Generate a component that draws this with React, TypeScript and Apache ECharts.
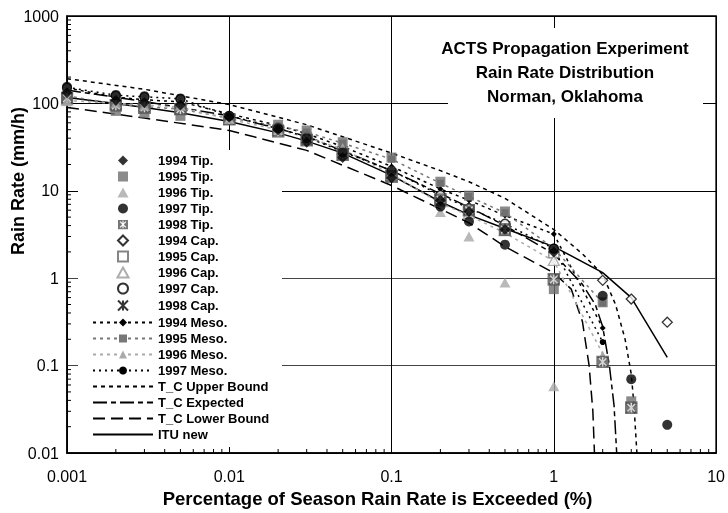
import React, { useEffect, useRef } from "react";
import * as echarts from "echarts";

const FONT = "Liberation Sans";

// Percentages (x) at which measurements are given
const pct = [0.001, 0.002, 0.003, 0.005, 0.01, 0.02, 0.03, 0.05, 0.1, 0.2, 0.3, 0.5, 1, 2, 3, 5];

// Tipping bucket measurements (mm/h)
const tip1994 = [132, 108, 102, 96, 70, 50, 36, 24, 14, 7.8, 5.8, 3.6, 2.0, null, null, null];
const tip1995 = [120, 82, 78, 72, 66, 57, 49, 36, 24, 12.7, 8.8, 5.8, 0.75, 0.53, 0.039, null];
const tip1996 = [106, 100, 94, 94, 66, 50, 41, 31, 15, 5.7, 3.0, 0.89, 0.058, null, null, null];
const tip1997 = [155, 125, 121, 114, 72, 52, 40, 27.5, 16.5, 6.6, 4.45, 2.42, 2.18, 0.63, 0.07, 0.021];
const tip1998 = [115, 95, 90, 86, 66, 48, 38, 26, 14.6, 7.9, 6.0, 3.6, 0.97, 0.11, 0.033, null];

// Capacitance gauge measurements
const cap1994 = [128, 106, 100, 95, 70, 51, 41, 28, 16, 8.5, 6.4, 4.1, 2.0, 0.945, 0.577, 0.314];
const cap1995 = [118, 97, 92, 86, 67, 50, 40, 28, 15.5, 8.2, 6.0, 3.9, 1.95, null, null, null];
const cap1996 = [110, 100, 95, 92, 66, 50, 40, 30, 15, 7.5, 5.5, 3.5, 1.6, null, null, null];
const cap1997 = [150, 122, 118, 112, 72, 53, 41, 28.5, 17, 8.9, 6.3, 4.2, 2.18, null, null, null];
const cap1998 = [116, 96, 91, 86, 66, 48, 38, 26, 14.6, 7.9, 6.0, 3.7, 0.97, 0.11, 0.033, null];

// Mesonet measurements
const meso1994 = [150, 118, 110, 104, 76, 56, 45, 32, 19, 10.5, 7.8, 5.2, 3.2, 0.27, null, null];
const meso1995 = [122, 98, 92, 86, 68, 55, 47, 35, 23, 12.2, 8.6, 5.6, 2.2, 0.52, null, null];
const meso1996 = [108, 100, 96, 90, 66, 50, 41, 30, 15.5, 7.2, 5.2, 3.3, 1.57, 0.137, null, null];
const meso1997 = [153, 124, 119, 113, 72, 52, 41, 28, 17, 8.9, 6.3, 4.2, 2.18, 0.186, null, null];

// Model curves
const upperX = [0.001, 0.003, 0.01, 0.03, 0.1, 0.2, 0.3, 0.5, 1, 1.5, 2, 2.4, 2.75, 3, 3.12, 3.25];
const upperV = [192, 145, 97, 57, 27, 17, 12.7, 8.2, 3.6, 1.9, 1.1, 0.5, 0.2, 0.08, 0.035, 0.01];
const expX = [0.001, 0.003, 0.01, 0.03, 0.1, 0.3, 0.5, 1, 1.5, 1.8, 2, 2.2, 2.35, 2.44];
const expV = [142, 105, 72, 42, 17, 6.5, 4.0, 1.9, 0.85, 0.5, 0.28, 0.1, 0.035, 0.01];
const lowX = [0.001, 0.003, 0.01, 0.03, 0.1, 0.3, 0.5, 1, 1.28, 1.5, 1.65, 1.74, 1.78];
const lowV = [90, 68, 49, 29, 11.5, 4.3, 2.3, 1.15, 0.75, 0.32, 0.1, 0.03, 0.01];
const ituX = [0.001, 0.002, 0.003, 0.005, 0.01, 0.02, 0.03, 0.05, 0.1, 0.2, 0.3, 0.5, 1, 2, 3, 5];
const ituV = [117, 100, 90, 78, 62, 46, 37, 27, 15, 7.5, 5.3, 3.7, 2.3, 1.16, 0.6, 0.124];

// Axis tick labels
const xTickLabels = ["0.001", "0.01", "0.1", "1", "10"];
const yTickLabels = ["0.01", "0.1", "1", "10", "100", "1000"];
const minorMultipliers = [2, 3, 4, 5, 6, 7, 8, 9];
const xDecades = [0.001, 0.01, 0.1, 1];
const yDecades = [0.01, 0.1, 1, 10, 100];

const markerNames = [
  "1994 Tip.", "1995 Tip.", "1996 Tip.", "1997 Tip.", "1998 Tip.",
  "1994 Cap.", "1995 Cap.", "1996 Cap.", "1997 Cap.", "1998 Cap.",
  "1994 Meso.", "1995 Meso.", "1996 Meso.", "1997 Meso.",
];
const curveNames = ["T_C Upper Bound", "T_C Expected", "T_C Lower Bound", "ITU new"];

const pairs = (xs: number[], ys: (number | null)[]) =>
  xs.map((x, i) => [x, ys[i]]).filter((p) => p[1] != null);

const xSquareSvg =
  "<svg xmlns='http://www.w3.org/2000/svg' width='24' height='24' viewBox='0 0 24 24'>" +
  "<rect width='24' height='24' fill='#555555'/>" +
  "<path d='M5 5L19 19M19 5L5 19M12 3V21' stroke='#ffffff' stroke-width='2.6'/></svg>";
const xSquareSymbol = "image://data:image/svg+xml;charset=utf-8," + encodeURIComponent(xSquareSvg);
const asteriskSymbol = "path://M0,0L10,10M10,0L0,10M5,0L5,10";
const diamondSymbol = "path://M5,0L10,5L5,10L0,5Z";
const squareSymbol = "path://M0,0L10,0L10,10L0,10Z";
const triangleSymbol = "path://M5,0L10,9L0,9Z";

export default function App() {
  const ref = useRef<HTMLDivElement>(null);

  useEffect(() => {
    if (!ref.current) return;
    const chart = echarts.init(ref.current, undefined, { renderer: "svg" });

    const xMinor: number[][] = [];
    xDecades.forEach((d) => minorMultipliers.forEach((m) => xMinor.push([d * m, 0.01])));
    const yMinor: number[][] = [];
    yDecades.forEach((d) => minorMultipliers.forEach((m) => yMinor.push([0.001, d * m])));

    const scatter = (name: string, data: any[], symbol: string, size: number, itemStyle: any, z = 3) => ({
      name,
      type: "scatter",
      data,
      symbol,
      symbolSize: size,
      symbolKeepAspect: true,
      itemStyle,
      z,
      emphasis: { disabled: true },
    });

    const line = (name: string, data: any[], color: string, dash: any, symbol = "none", size = 0) => ({
      name,
      type: "line",
      data,
      symbol,
      symbolSize: size,
      symbolKeepAspect: true,
      showSymbol: symbol !== "none",
      lineStyle: { color, width: 1.5, type: dash },
      itemStyle: { color },
      z: 2,
      emphasis: { disabled: true },
    });

    const legendData: any[] = [
      ...markerNames.map((n) => ({ name: n })),
      ...curveNames.map((n) => ({ name: n, itemStyle: { color: "rgba(0,0,0,0)", borderWidth: 0 } })),
    ];

    const option: any = {
      animation: false,
      grid: {
        left: 67, right: 10, top: 16, bottom: 56,
        show: true, borderColor: "#000", borderWidth: 1.5, backgroundColor: "transparent",
      },
      xAxis: {
        type: "log", logBase: 10, min: 0.001, max: 10,
        axisLine: { lineStyle: { color: "#000", width: 1.5 } },
        axisTick: { show: false },
        axisLabel: {
          color: "#000", fontSize: 16, fontFamily: FONT, margin: 15,
          formatter: (v: number) => xTickLabels[Math.round(Math.log10(v)) + 3],
        },
        splitLine: { show: true, lineStyle: { color: "#000", width: 1 } },
        name: "Percentage of Season Rain Rate is Exceeded (%)",
        nameLocation: "middle", nameGap: 36,
        nameTextStyle: { color: "#000", fontSize: 18.5, fontWeight: "bold", fontFamily: FONT, padding: [0, 28, 0, 0] },
      },
      yAxis: {
        type: "log", logBase: 10, min: 0.01, max: 1000,
        axisLine: { lineStyle: { color: "#000", width: 1.5 } },
        axisTick: { show: false },
        axisLabel: {
          color: "#000", fontSize: 16, fontFamily: FONT, margin: 8,
          formatter: (v: number) => yTickLabels[Math.round(Math.log10(v)) + 2],
        },
        splitLine: { show: true, lineStyle: { color: ["#000", "#444", "#444", "#000", "#000", "#000"], width: 1.2 } },
      },
      legend: {
        orient: "vertical", left: 87, top: 149,
        itemWidth: 60, itemHeight: 10, itemGap: 3.0,
        selectedMode: false,
        data: legendData,
        textStyle: { color: "#000", fontSize: 13, fontWeight: "bold", fontFamily: FONT, lineHeight: 12 },
        z: 5,
      },
      graphic: [
        { type: "rect", z: 1, shape: { x: 78, y: 150, width: 204, height: 297 }, style: { fill: "#fff" }, silent: true },
        { type: "rect", z: 1, shape: { x: 448, y: 28, width: 255, height: 90 }, style: { fill: "#fff" }, silent: true },
        {
          type: "text", z: 5, x: 565, y: 36,
          style: {
            text: "ACTS Propagation Experiment\nRain Rate Distribution\nNorman, Oklahoma",
            textAlign: "center", textVerticalAlign: "top", lineHeight: 24,
            font: `bold 17px "${FONT}"`, fill: "#000",
          },
        },
        {
          type: "text", z: 5, x: 18, y: 181, rotation: Math.PI / 2,
          style: {
            text: "Rain Rate (mm/h)", textAlign: "center", textVerticalAlign: "middle",
            font: `bold 18px "${FONT}"`, fill: "#000",
          },
        },
      ],
      series: [
        {
          type: "custom", silent: true, z: 4, data: xMinor,
          renderItem: (_p: any, api: any) => {
            const p = api.coord([api.value(0), api.value(1)]);
            return { type: "line", shape: { x1: p[0], y1: p[1], x2: p[0], y2: p[1] - 4 }, style: { stroke: "#000", lineWidth: 1 } };
          },
        },
        {
          type: "custom", silent: true, z: 4, data: yMinor,
          renderItem: (_p: any, api: any) => {
            const p = api.coord([api.value(0), api.value(1)]);
            return { type: "line", shape: { x1: p[0], y1: p[1], x2: p[0] + 4, y2: p[1] }, style: { stroke: "#000", lineWidth: 1 } };
          },
        },
        line("T_C Upper Bound", pairs(upperX, upperV), "#000", [4, 4]),
        line("T_C Expected", pairs(expX, expV), "#000", [14, 4, 5, 4]),
        line("T_C Lower Bound", pairs(lowX, lowV), "#000", [12, 6]),
        line("ITU new", pairs(ituX, ituV), "#000", "solid"),
        line("1994 Meso.", pairs(pct, meso1994), "#000", [3, 4], "diamond", 6),
        line("1995 Meso.", pairs(pct, meso1995), "#777", [3, 4], "rect", 7),
        line("1996 Meso.", pairs(pct, meso1996), "#aaa", [3, 4], "triangle", 6),
        line("1997 Meso.", pairs(pct, meso1997), "#000", [2, 4], "circle", 6),
        scatter("1994 Cap.", pairs(pct, cap1994), diamondSymbol, 10, { color: "#fff", borderColor: "#000", borderWidth: 1.3 }),
        scatter("1995 Cap.", pairs(pct, cap1995), squareSymbol, 10, { color: "#fff", borderColor: "#666", borderWidth: 1.3 }),
        scatter("1996 Cap.", pairs(pct, cap1996), triangleSymbol, 11, { color: "#fff", borderColor: "#999", borderWidth: 1.3 }),
        scatter("1997 Cap.", pairs(pct, cap1997), "circle", 9, { color: "#fff", borderColor: "#000", borderWidth: 1.3 }),
        scatter("1998 Cap.", pairs(pct, cap1998), asteriskSymbol, 10, { color: "none", borderColor: "#000", borderWidth: 1.5 }),
        scatter("1995 Tip.", pairs(pct, tip1995), squareSymbol, 10, { color: "#6e6e6e" }, 3),
        scatter("1998 Tip.", pairs(pct, tip1998), xSquareSymbol, 13, {}, 3),
        scatter("1996 Tip.", pairs(pct, tip1996), triangleSymbol, 11, { color: "#a8a8a8" }, 3),
        scatter("1994 Tip.", pairs(pct, tip1994), diamondSymbol, 11, { color: "#000" }, 3),
        scatter("1997 Tip.", pairs(pct, tip1997), "circle", 10, { color: "#000" }, 3),
      ],
    };

    chart.setOption(option);
    return () => chart.dispose();
  }, []);

  return <div ref={ref} style={{ position: "fixed", left: 0, top: 0, width: 728, height: 513 }} />;
}
